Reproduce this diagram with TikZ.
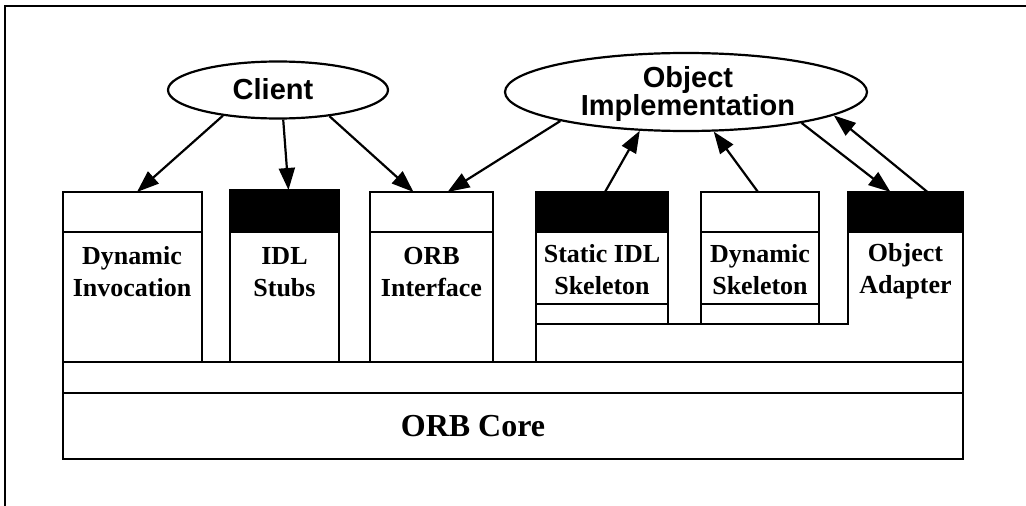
\documentclass[tikz,border=0pt]{standalone}
\usepackage{fontspec}
\setmainfont{Liberation Serif}
\setsansfont{Liberation Sans}
\usetikzlibrary{arrows.meta,shapes.geometric,calc}
\begin{document}
\begin{tikzpicture}[x=1pt,y=-1pt,
  rect/.style={draw, line width=2pt, inner sep=0pt, outer sep=0pt},
  hdr/.style={rect, fill=black},
  lbl/.style={font=\fontsize{26}{32}\selectfont\bfseries, align=center, inner sep=0pt},
  oval/.style={ellipse, draw, line width=2.2pt, inner sep=0pt},
  ovallbl/.style={font=\sffamily\bfseries\fontsize{29}{25}\selectfont, align=center, inner sep=0pt},
  arr/.style={-{Triangle[length=22pt,width=16pt]}, line width=2.2pt}]
\useasboundingbox (0,0) rectangle (1026,506);
% frame
\draw[line width=2.6pt] (5,506) -- (5,6) -- (1026,6);
% band and core
\node[rect, minimum width=900, minimum height=31] (band) at (513,377.5) {};
\node[rect, minimum width=900, minimum height=66] (core) at (513,426) {};
\node[font=\fontsize{32}{36}\selectfont\bfseries] (corelbl) at (473,426) {ORB Core};
% left boxes
\node[rect, minimum width=139, minimum height=40] (dihd) at (132.5,212) {};
\node[rect, minimum width=139, minimum height=130] (dibody) at (132.5,297) {};
\node[hdr, minimum width=109, minimum height=42] (idlhd) at (284.5,211) {};
\node[rect, minimum width=109, minimum height=130] (idlbody) at (284.5,297) {};
\node[rect, minimum width=123, minimum height=40] (orbihd) at (431.5,212) {};
\node[rect, minimum width=123, minimum height=130] (orbibody) at (431.5,297) {};
% right boxes
\node[hdr, minimum width=132, minimum height=40] (sishd) at (602,212) {};
\node[rect, minimum width=132, minimum height=72] (sisbody) at (602,268) {};
\node[rect, minimum width=132, minimum height=20] (sisband) at (602,314) {};
\node[rect, minimum width=118, minimum height=40] (dshd) at (760,212) {};
\node[rect, minimum width=118, minimum height=72] (dsbody) at (760,268) {};
\node[rect, minimum width=118, minimum height=20] (dsband) at (760,314) {};
\node[hdr, minimum width=115, minimum height=40] (oahd) at (905.5,212) {};
\draw[line width=2pt] (oahd.south west) -- (oahd.south west |- sisband.south)
  -- (sisband.south west) -- (sisband.south west |- band.north);
\draw[line width=2pt] (oahd.south east) -- (oahd.south east |- band.north);
% labels
\node[lbl] (dilbl) at (132,272) {Dynamic\\Invocation};
\node[lbl] (idllbl) at (284.5,272) {IDL\\Stubs};
\node[lbl] (orbilbl) at (431.5,272) {ORB\\Interface};
\node[lbl] (sislbl) at (602,270) {Static IDL\\Skeleton};
\node[lbl] (dslbl) at (760,270) {Dynamic\\Skeleton};
\node[lbl] (oalbl) at (905.5,271) {Object\\Adapter};
% ellipses
\node[oval, minimum width=220, minimum height=57] (client) at (278,90) {};
\node[ovallbl] (clientlbl) at (273,89) {Client};
\node[oval, minimum width=362, minimum height=78] (oi) at (686,92) {};
\node[ovallbl] (oilbl) at (688,94) {Object\\Implementation};
% arrows
\draw[arr] (client.205) -- ($(dihd.north)+(4.5,0)$);
\draw[arr] (client.280) -- ($(idlhd.north)+(4,0)$);
\draw[arr] (client.333) -- ($(orbihd.north)+(-18,0)$);
\draw[arr] (oi.193) -- ($(orbihd.north)+(16,0)$);
\draw[arr] ($(sishd.north)+(3,0)$) -- (oi.220);
\draw[arr] ($(dshd.north)+(-2,0)$) -- (oi.305);
\draw[arr] (oi.345) -- ($(oahd.north)+(-15,0)$);
\draw[arr] ($(oahd.north)+(22,0)$) -- (oi.351);
\end{tikzpicture}
\end{document}
